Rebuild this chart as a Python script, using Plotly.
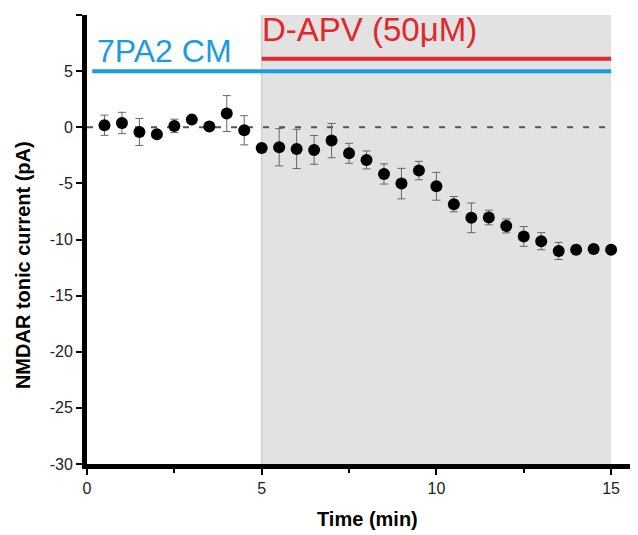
import plotly.graph_objects as go

# ---- data ----
time_min = [0.5, 1.0, 1.5, 2.0, 2.5, 3.0, 3.5, 4.0, 4.5, 5.0,
            5.5, 6.0, 6.5, 7.0, 7.5, 8.0, 8.5, 9.0, 9.5, 10.0,
            10.5, 11.0, 11.5, 12.0, 12.5, 13.0, 13.5, 14.0, 14.5, 15.0]
current_pA = [0.18, 0.38, -0.42, -0.62, 0.12, 0.68, 0.06, 1.22, -0.27, -1.84,
              -1.78, -1.93, -2.02, -1.19, -2.32, -2.91, -4.16, -5.02, -3.86, -5.26,
              -6.85, -8.07, -8.04, -8.79, -9.73, -10.15, -11.02, -10.92, -10.84, -10.92]
sem_pA = [0.9, 0.95, 1.2, 0.3, 0.6, 0.3, 0.3, 1.6, 1.3, 0.3,
          1.66, 1.75, 1.28, 1.53, 0.89, 0.8, 0.9, 1.36, 0.82, 1.24,
          0.68, 1.32, 0.65, 0.62, 0.88, 0.76, 0.76, 0.4, 0.35, 0.3]

cm_x = [0.15, 15.0]
cm_y = [5.0, 5.0]
apv_x = [5.0, 15.0]
apv_y = [6.1, 6.1]
base_x = [0.0, 15.0]
base_y = [0.0, 0.0]

x_ticks = [0, 5, 10, 15]
x_tick_labels = ["0", "5", "10", "15"]
y_ticks = [10, 5, 0, -5, -10, -15, -20, -25, -30]
y_tick_labels = ["10", "5", "0", "-5", "-10", "-15", "-20", "-25", "-30"]

FONT = "Liberation Sans, Arial, sans-serif"
BLUE = "#1B9BDF"
RED = "#E3262A"

fig = go.Figure()

# baseline dashed
fig.add_trace(go.Scatter(x=base_x, y=base_y, mode="lines",
                         line=dict(color="#555555", width=2, dash="6px,10px"),
                         hoverinfo="skip", showlegend=False))
# 7PA2 CM bar
fig.add_trace(go.Scatter(x=cm_x, y=cm_y, mode="lines",
                         line=dict(color=BLUE, width=4), showlegend=False))
# D-APV bar
fig.add_trace(go.Scatter(x=apv_x, y=apv_y, mode="lines",
                         line=dict(color=RED, width=4), showlegend=False))
# data points
fig.add_trace(go.Scatter(
    x=time_min, y=current_pA, mode="markers",
    marker=dict(color="black", size=12),
    error_y=dict(type="data", array=sem_pA, visible=True,
                 color="#666666", thickness=1, width=4),
    showlegend=False))

# grey shaded D-APV period
fig.add_shape(type="rect", xref="x", yref="paper", x0=5, x1=15, y0=0, y1=1,
              fillcolor="#e2e2e2", line=dict(width=0), layer="below")
fig.add_shape(type="line", xref="x", yref="paper", x0=5, x1=5, y0=0, y1=1,
              line=dict(color="#c4c4c4", width=1), layer="below")

# labels
fig.add_annotation(x=0.23, y=5, xref="x", yref="y", text="7PA2 CM",
                   showarrow=False, xanchor="left", yanchor="bottom", yshift=0,
                   font=dict(family=FONT, size=32, color=BLUE))
fig.add_annotation(x=4.95, y=6.1, xref="x", yref="y", text="D-APV (50μM)",
                   showarrow=False, xanchor="left", yanchor="bottom", yshift=9,
                   font=dict(family=FONT, size=33, color=RED))

# axis titles as annotations
fig.add_annotation(x=0, y=0.443, xref="paper", yref="paper",
                   text="<b>NMDAR tonic current (pA)</b>", textangle=-90,
                   showarrow=False, xanchor="center", yanchor="middle", xshift=-64,
                   font=dict(family=FONT, size=20, color="black"))
fig.add_annotation(x=8.04, y=0, xref="x", yref="paper",
                   text="<b>Time (min)</b>",
                   showarrow=False, xanchor="center", yanchor="middle", yshift=-55,
                   font=dict(family=FONT, size=20, color="black"))

# page body has an 8px margin, so the figure is sized/offset to compensate
fig.update_layout(
    width=630, height=527,
    margin=dict(l=79, r=0, t=7, b=71, autoexpand=False),
    paper_bgcolor="white", plot_bgcolor="white",
    font=dict(family=FONT, size=16, color="#222222"),
)
fig.update_xaxes(range=[0, 15.77], tickvals=x_ticks, ticktext=x_tick_labels,
                 ticks="outside", ticklen=6,
                 tickwidth=2, tickcolor="black", showline=True, linewidth=5,
                 linecolor="black", showgrid=False, zeroline=False, automargin=False,
                 minor=dict(dtick=2.5, tick0=0, ticks="outside", ticklen=4,
                            tickwidth=2, tickcolor="black"))
fig.update_yaxes(range=[-30, 10], tickvals=y_ticks, ticktext=y_tick_labels,
                 ticks="outside", ticklen=6,
                 tickwidth=2, tickcolor="black", showline=True, linewidth=5,
                 linecolor="black", showgrid=False, zeroline=False, automargin=False)

fig.write_html("out.html")
